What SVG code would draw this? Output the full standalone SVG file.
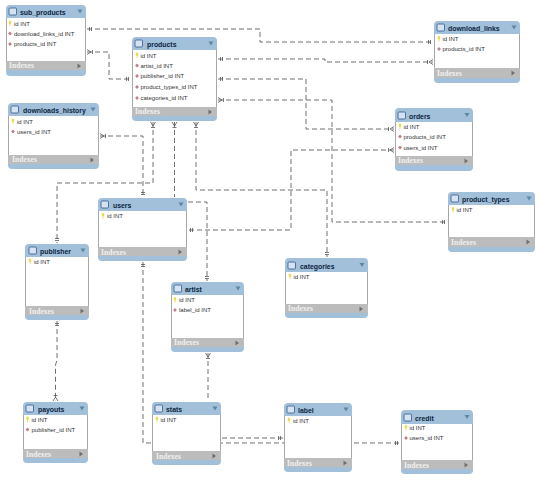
<svg xmlns="http://www.w3.org/2000/svg" width="540" height="480" viewBox="0 0 540 480">
<style>
.bg{fill:#a2c0d9}
.body{fill:#fff}
.side{fill:none;stroke:#a8a8a8;stroke-width:1}
.band{fill:#bcbcbc}
.t{font:bold 6.9px "Liberation Sans",Arial,sans-serif;fill:#0c2440}
.f{font:6px "Liberation Sans",Arial,sans-serif;fill:#333}
.x{font:bold 7.6px "Liberation Serif","Times New Roman",serif;fill:#f0f0f0}
.c{fill:none;stroke:#707070;stroke-width:1;stroke-dasharray:5 3}
.m{fill:none;stroke:#555;stroke-width:.8}
</style>
<defs>
<marker id="one" markerUnits="userSpaceOnUse" markerWidth="10" markerHeight="10" refX="9" refY="5" orient="auto-start-reverse"><path class="m" d="M4.500 3V7M6.500 3V7"/></marker>
<marker id="many" markerUnits="userSpaceOnUse" markerWidth="10" markerHeight="10" refX="9" refY="5" orient="auto-start-reverse"><path class="m" d="M3.500 3V7M5 5L9 2.500M5 5L9 7.500"/></marker>
<g id="ico"><rect x="0" y="0" width="7.500" height="7" rx="1" fill="#d4e2f2" stroke="#34598e" stroke-width=".8"/></g>
<path id="dn" d="M-2.500 -2H2.500L0 2Z" fill="#5b87a6"/>
<path id="rt" d="M-1.500 -2.500V2.500L2 0Z" fill="#6e6e6e"/>
<path id="key" d="M-1.200 -2.800H1.200V0L.4 .6V2.800H-.4V.6L-1.200 0Z" fill="#e6dc50"/>
<path id="fk" d="M0 -1.900L1.900 0L0 1.900L-1.900 0Z" fill="#c07e8e"/>
</defs>

<g id="connectors">
<path class="c" marker-start="url(#one)" marker-end="url(#one)" d="M87 29H260V42H433"/>
<path class="c" marker-start="url(#many)" marker-end="url(#one)" d="M87 52H109V79H131"/>
<path class="c" marker-start="url(#one)" marker-end="url(#many)" d="M218 59H325V62H433"/>
<path class="c" marker-start="url(#one)" marker-end="url(#many)" d="M218 79H306V129H394"/>
<path class="c" marker-start="url(#many)" marker-end="url(#one)" d="M218 100H332V222H447"/>
<path class="c" marker-start="url(#many)" marker-end="url(#one)" d="M100 136H143V197"/>
<path class="c" marker-start="url(#many)" marker-end="url(#one)" d="M153 122V183H57V243"/>
<path class="c" marker-start="url(#many)" d="M174.500 122V197"/>
<path class="c" marker-start="url(#many)" marker-end="url(#one)" d="M196 122V190H327V257"/>
<path class="c" marker-start="url(#many)" marker-end="url(#one)" d="M394 150H291V230H188"/>
<path class="c" marker-end="url(#one)" d="M188 202H207V281"/>
<path class="c" marker-start="url(#one)" marker-end="url(#many)" d="M57 321V360L55.500 365V401"/>
<path class="c" marker-start="url(#one)" marker-end="url(#one)" d="M143 262V443H400"/>
<path class="c" marker-end="url(#one)" d="M222 438H283"/>
<path class="c" marker-start="url(#many)" d="M208 353V401"/>
</g>

<g id="sub_products" transform="translate(6 5)">
<rect class="bg" width="80" height="71" rx="4"/><rect class="body" y="13" width="80" height="43"/><rect class="band" y="56" width="80" height="9"/>
<path class="side" d="M.5 13V56M79.500 13V56"/>
<use href="#ico" x="3" y="3"/><text class="t" x="14" y="9.500">sub_products</text><use href="#dn" x="74" y="6.500"/>
<use href="#key" x="4" y="18.500"/><text class="f" x="8" y="20.600">id INT</text>
<use href="#fk" x="4" y="28.500"/><text class="f" x="8" y="30.600">download_links_id INT</text>
<use href="#fk" x="4" y="39"/><text class="f" x="8" y="41.100">products_id INT</text>
<text class="x" x="3" y="63">Indexes</text><use href="#rt" x="73" y="61"/>
</g>

<g id="products" transform="translate(132 37)">
<rect class="bg" width="85" height="84" rx="4"/><rect class="body" y="13" width="85" height="57"/><rect class="band" y="70" width="85" height="9"/>
<path class="side" d="M.5 13V70M84.500 13V70"/>
<use href="#ico" x="3" y="3"/><text class="t" x="15" y="9.500">products</text><use href="#dn" x="79" y="6.500"/>
<use href="#key" x="5" y="18.500"/><text class="f" x="8.500" y="20.600">id INT</text>
<use href="#fk" x="5" y="28.500"/><text class="f" x="8.500" y="30.600">artist_id INT</text>
<use href="#fk" x="5" y="39"/><text class="f" x="8.500" y="41.100">publisher_id INT</text>
<use href="#fk" x="5" y="50"/><text class="f" x="8.500" y="52.100">product_types_id INT</text>
<use href="#fk" x="5" y="61"/><text class="f" x="8.500" y="63.100">categories_id INT</text>
<text class="x" x="3" y="77">Indexes</text><use href="#rt" x="78" y="75"/>
</g>

<g id="downloads_history" transform="translate(8 103)">
<rect class="bg" width="91" height="66" rx="4"/><rect class="body" y="13" width="91" height="39"/><rect class="band" y="52" width="91" height="9"/>
<path class="side" d="M.5 13V52M90.500 13V52"/>
<use href="#ico" x="3" y="3"/><text class="t" x="15" y="9.500">downloads_history</text><use href="#dn" x="85" y="6.500"/>
<use href="#key" x="5" y="18.500"/><text class="f" x="9" y="20.600">id INT</text>
<use href="#fk" x="5" y="28.500"/><text class="f" x="9" y="30.600">users_id INT</text>
<text class="x" x="4" y="59">Indexes</text><use href="#rt" x="84" y="57"/>
</g>

<g id="download_links" transform="translate(434 21)">
<rect class="bg" width="86" height="62" rx="4"/><rect class="body" y="13" width="86" height="34"/><rect class="band" y="47" width="86" height="10"/>
<path class="side" d="M.5 13V47M85.500 13V47"/>
<use href="#ico" x="3" y="3"/><text class="t" x="14" y="9.500">download_links</text><use href="#dn" x="80" y="6.500"/>
<use href="#key" x="5" y="18"/><text class="f" x="8.500" y="20.100">id INT</text>
<use href="#fk" x="5" y="28"/><text class="f" x="8.500" y="30.100">products_id INT</text>
<text class="x" x="3" y="55">Indexes</text><use href="#rt" x="79" y="52"/>
</g>

<g id="orders" transform="translate(395 108)">
<rect class="bg" width="78" height="63" rx="4"/><rect class="body" y="14" width="78" height="34"/><rect class="band" y="48" width="78" height="9"/>
<path class="side" d="M.5 14V48M77.500 14V48"/>
<use href="#ico" x="3" y="4"/><text class="t" x="14" y="10.500">orders</text><use href="#dn" x="72" y="7"/>
<use href="#key" x="5" y="18.500"/><text class="f" x="8.500" y="20.600">id INT</text>
<use href="#fk" x="5" y="28.500"/><text class="f" x="8.500" y="30.600">products_id INT</text>
<use href="#fk" x="5" y="39.500"/><text class="f" x="8.500" y="41.600">users_id INT</text>
<text class="x" x="3" y="55">Indexes</text><use href="#rt" x="71" y="53"/>
</g>

<g id="product_types" transform="translate(448 192)">
<rect class="bg" width="87" height="60" rx="4"/><rect class="body" y="13" width="87" height="32"/><rect class="band" y="45" width="87" height="10"/>
<path class="side" d="M.5 13V45M86.500 13V45"/>
<use href="#ico" x="3" y="3"/><text class="t" x="14" y="9.500">product_types</text><use href="#dn" x="81" y="6.500"/>
<use href="#key" x="5" y="18"/><text class="f" x="8.500" y="20.100">id INT</text>
<text class="x" x="3" y="53">Indexes</text><use href="#rt" x="80" y="50"/>
</g>

<g id="categories" transform="translate(285 258)">
<rect class="bg" width="83" height="60" rx="4"/><rect class="body" y="14" width="83" height="32"/><rect class="band" y="46" width="83" height="9"/>
<path class="side" d="M.5 14V46M82.500 14V46"/>
<use href="#ico" x="3" y="4"/><text class="t" x="15" y="10.500">categories</text><use href="#dn" x="77" y="7"/>
<use href="#key" x="5" y="18.500"/><text class="f" x="8.500" y="20.600">id INT</text>
<text class="x" x="3" y="53">Indexes</text><use href="#rt" x="76" y="51"/>
</g>

<g id="users" transform="translate(98 198)">
<rect class="bg" width="89" height="63" rx="4"/><rect class="body" y="13" width="89" height="36"/><rect class="band" y="49" width="89" height="9"/>
<path class="side" d="M.5 13V49M88.500 13V49"/>
<use href="#ico" x="3" y="3"/><text class="t" x="15" y="9.500">users</text><use href="#dn" x="83" y="6.500"/>
<use href="#key" x="5" y="18"/><text class="f" x="9" y="20.100">id INT</text>
<text class="x" x="3" y="56.500">Indexes</text><use href="#rt" x="82" y="54"/>
</g>

<g id="publisher" transform="translate(25 244)">
<rect class="bg" width="64" height="76" rx="4"/><rect class="body" y="13" width="64" height="49"/><rect class="band" y="62" width="64" height="9"/>
<path class="side" d="M.5 13V62M63.500 13V62"/>
<use href="#ico" x="4" y="3"/><text class="t" x="15" y="9.500">publisher</text><use href="#dn" x="58" y="6.500"/>
<use href="#key" x="5" y="17.500"/><text class="f" x="9" y="19.600">id INT</text>
<text class="x" x="4" y="69.500">Indexes</text><use href="#rt" x="57" y="67"/>
</g>

<g id="artist" transform="translate(171 282)">
<rect class="bg" width="73" height="70" rx="4"/><rect class="body" y="13" width="73" height="43"/><rect class="band" y="56" width="73" height="9"/>
<path class="side" d="M.5 13V56M72.500 13V56"/>
<use href="#ico" x="3" y="3"/><text class="t" x="14" y="9.500">artist</text><use href="#dn" x="67" y="6.500"/>
<use href="#key" x="4" y="18"/><text class="f" x="8" y="20.100">id INT</text>
<use href="#fk" x="4" y="28"/><text class="f" x="8" y="30.100">label_id INT</text>
<text class="x" x="3" y="63">Indexes</text><use href="#rt" x="66" y="61"/>
</g>

<g id="payouts" transform="translate(23 402)">
<rect class="bg" width="65" height="61" rx="4"/><rect class="body" y="13" width="65" height="34"/><rect class="band" y="47" width="65" height="9"/>
<path class="side" d="M.5 13V47M64.500 13V47"/>
<use href="#ico" x="3" y="3"/><text class="t" x="15" y="9.500">payouts</text><use href="#dn" x="59" y="6.500"/>
<use href="#key" x="4.500" y="17.500"/><text class="f" x="8.500" y="19.600">id INT</text>
<use href="#fk" x="4.500" y="27.500"/><text class="f" x="8.500" y="29.600">publisher_id INT</text>
<text class="x" x="3" y="54.500">Indexes</text><use href="#rt" x="58" y="52"/>
</g>

<g id="stats" transform="translate(152 402)">
<rect class="bg" width="69" height="63" rx="4"/><rect class="body" y="13" width="69" height="36"/><rect class="band" y="49" width="69" height="9"/>
<path class="side" d="M.5 13V49M68.500 13V49"/>
<use href="#ico" x="3" y="3"/><text class="t" x="14" y="9.500">stats</text><use href="#dn" x="63" y="6.500"/>
<use href="#key" x="5" y="17.500"/><text class="f" x="8.500" y="19.600">id INT</text>
<text class="x" x="4" y="56.500">Indexes</text><use href="#rt" x="62" y="54"/>
</g>

<g id="label" transform="translate(284 403)">
<rect class="bg" width="68" height="69" rx="4"/><rect class="body" y="13" width="68" height="42"/><rect class="band" y="55" width="68" height="9"/>
<path class="side" d="M.5 13V55M67.500 13V55"/>
<use href="#ico" x="3" y="3"/><text class="t" x="14" y="9.500">label</text><use href="#dn" x="62" y="6.500"/>
<use href="#key" x="5" y="17.500"/><text class="f" x="9" y="19.600">id INT</text>
<text class="x" x="3" y="62.500">Indexes</text><use href="#rt" x="61" y="60"/>
</g>

<g id="credit" transform="translate(401 410)">
<rect class="bg" width="72" height="64" rx="4"/><rect class="body" y="14" width="72" height="36"/><rect class="band" y="50" width="72" height="9"/>
<path class="side" d="M.5 14V50M71.500 14V50"/>
<use href="#ico" x="3" y="4"/><text class="t" x="14" y="10.500">credit</text><use href="#dn" x="66" y="7"/>
<use href="#key" x="5" y="18"/><text class="f" x="8.500" y="20.100">id INT</text>
<use href="#fk" x="5" y="28"/><text class="f" x="8.500" y="30.100">users_id INT</text>
<text class="x" x="3" y="57.500">Indexes</text><use href="#rt" x="65" y="55"/>
</g>
</svg>
